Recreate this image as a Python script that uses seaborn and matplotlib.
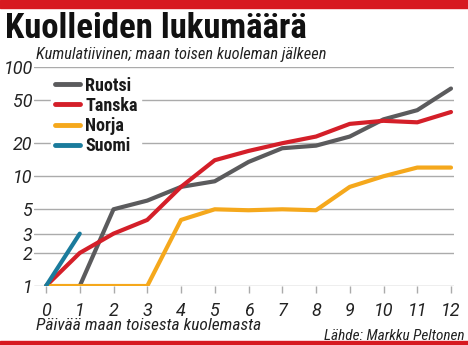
import numpy as np
import pandas as pd
import matplotlib
matplotlib.use("Agg")
import matplotlib.pyplot as plt
from matplotlib import font_manager as fm
from matplotlib.lines import Line2D
from matplotlib.patches import Rectangle
import seaborn as sns

# Cumulative deaths, counted from each country's second death
days = list(range(13))
ruotsi = [np.nan, 1, 5, 6, 8, 9, 13.5, 18, 19, 23, 33, 40, 63]
tanska = [1, 2, 3, 4, 8, 14, 17, 20, 23, 30, 32, 31, 38.5]
norja = [1, 1, 1, 1, 4, 5, 4.9, 5, 4.9, 8, 10, 12, 12]
suomi = [1, 3] + [np.nan] * 11

countries = ["Ruotsi", "Tanska", "Norja", "Suomi"]
colors = ["#5b5b5d", "#d41f29", "#f5a81c", "#1a7b9c"]
yticks = [1, 2, 3, 5, 10, 20, 50, 100]

title = "Kuolleiden lukumäärä"
subtitle = "Kumulatiivinen; maan toisen kuoleman jälkeen"
xlabel = "Päivää maan toisesta kuolemasta"
source = "Lähde: Markku Peltonen"

rows = []
for name, vals in zip(countries, [ruotsi, tanska, norja, suomi]):
    for d, v in zip(days, vals):
        if not np.isnan(v):
            rows.append({"day": d, "deaths": v, "country": name})
df = pd.DataFrame(rows)

sns.set_theme(style="white")
names = {f.name for f in fm.fontManager.ttflist}
narrow = next((n for n in ["Liberation Sans Narrow", "Roboto Condensed",
                           "Noto Sans Condensed", "Open Sans Condensed"]
               if n in names), "Roboto")
plt.rcParams["font.family"] = [narrow, "DejaVu Sans"]
numfont = ["Roboto", "DejaVu Sans"]

W, H = 468, 345
fig = plt.figure(figsize=(W / 100, H / 100), dpi=100)
fig.patch.set_facecolor("white")

ax_left, ax_right, ax_top, ax_bottom = 34, 454, 66.5, 286
ax = fig.add_axes([ax_left / W, 1 - ax_bottom / H,
                   (ax_right - ax_left) / W, (ax_bottom - ax_top) / H])

sns.lineplot(data=df, x="day", y="deaths", hue="country",
             hue_order=countries, palette=colors, linewidth=3.0,
             legend=False, ax=ax, zorder=3)

ax.set_yscale("log")
ax.set_ylim(1, 100)
ax.set_xlim((ax_left - 46) / 33.75, 12 + (ax_right - 451) / 33.75)
ax.set_yticks(yticks)
ax.set_yticklabels([str(t) for t in yticks])
ax.yaxis.set_minor_locator(matplotlib.ticker.NullLocator())
ax.set_xticks(days)
ax.set_xticklabels([str(d) for d in days])
ax.grid(axis="y", color="#ababab", linewidth=1.0, zorder=1)
ax.grid(axis="x", visible=False)
for s in ax.spines.values():
    s.set_visible(False)
ax.tick_params(axis="y", length=0, pad=1, labelsize=13, labelcolor="#222222")
ax.tick_params(axis="x", length=5, width=1, color="#ababab", pad=6.5,
               labelsize=13, labelcolor="#222222", direction="out")
ax.xaxis.set_ticks_position("bottom")
for lab in ax.get_xticklabels() + ax.get_yticklabels():
    lab.set_fontstyle("italic")
    lab.set_family(numfont)
ax.set_xlabel("")
ax.set_ylabel("")

handles = [Line2D([0], [0], color=c, linewidth=3.5) for c in colors]
leg = ax.legend(handles, countries, loc="upper left",
                bbox_to_anchor=((51 - ax_left) / (ax_right - ax_left),
                                1 - (73 - ax_top) / (ax_bottom - ax_top)),
                frameon=True, fancybox=False, framealpha=1, edgecolor="white",
                facecolor="white", handlelength=1.4, handletextpad=0.3,
                labelspacing=0.12, borderpad=0.2, borderaxespad=0,
                prop={"size": 13, "weight": "bold",
                      "family": [narrow, "DejaVu Sans"]})
for t in leg.get_texts():
    t.set_color("#1a1a1a")
leg.set_zorder(2)

# Red bands at top and bottom
fig.patches.append(Rectangle((0, 1 - 8 / H), 1, 8 / H, transform=fig.transFigure,
                             color="#d71920", zorder=0))
fig.patches.append(Rectangle((0, 0), 1, 4 / H, transform=fig.transFigure,
                             color="#d71920", zorder=0))

fig.text(5 / W, 1 - 28 / H, title, fontsize=25, fontweight="black",
         color="#111111", va="center", ha="left")
fig.text(36 / W, 1 - 54 / H, subtitle, fontsize=11.8, fontstyle="italic",
         color="#222222", va="center", ha="left")
fig.text(36 / W, 1 - 326 / H, xlabel, fontsize=12.5, fontstyle="italic",
         color="#222222", va="center", ha="left")
fig.text(464 / W, 1 - 336 / H, source, fontsize=11, fontstyle="italic",
         color="#222222", va="center", ha="right")

fig.savefig("out.png", dpi=100, facecolor="white")
